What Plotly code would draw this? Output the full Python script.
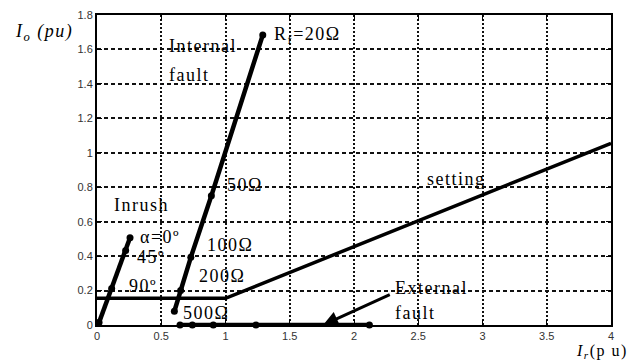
import plotly.graph_objects as go

# ---- data ----
inrush_x = [0.016, 0.114, 0.223, 0.257]
inrush_y = [0.015, 0.212, 0.433, 0.507]

internal_x = [0.602, 0.651, 0.730, 0.890, 1.290]
internal_y = [0.080, 0.200, 0.393, 0.750, 1.684]

external_x = [0.646, 0.742, 0.905, 1.237, 2.120]
external_y = [0.0, 0.0, 0.0, 0.0, 0.0]

setting_x = [0.0, 1.0, 4.0]
setting_y = [0.155, 0.155, 1.055]

x_ticks = [0, 0.5, 1, 1.5, 2, 2.5, 3, 3.5, 4]
x_labels = ["0", "0.5", "1", "1.5", "2", "2.5", "3", "3.5", "4"]
y_ticks = [0, 0.2, 0.4, 0.6, 0.8, 1.0, 1.2, 1.4, 1.6, 1.8]
y_labels = ["0", "0.2", "0.4", "0.6", "0.8", "1", "1.2", "1.4", "1.6", "1.8"]

fig = go.Figure()

line_style = dict(color="black", width=4.5)
mk = dict(color="black", size=7, symbol="circle")

fig.add_trace(go.Scatter(x=setting_x, y=setting_y, mode="lines",
                         line=dict(color="black", width=3.5), hoverinfo="skip"))
fig.add_trace(go.Scatter(x=inrush_x, y=inrush_y, mode="lines+markers",
                         line=line_style, marker=mk))
fig.add_trace(go.Scatter(x=internal_x, y=internal_y, mode="lines+markers",
                         line=line_style, marker=mk))
fig.add_trace(go.Scatter(x=external_x, y=external_y, mode="lines+markers",
                         line=line_style, marker=mk, cliponaxis=False))

serif = dict(family="Liberation Serif, Times New Roman, serif", size=18, color="black")

labels = [
    ("Internal", 0.545, 1.618),
    ("fault", 0.545, 1.452),
    ("R<sub>f</sub>=20Ω", 1.362, 1.68),
    ("50Ω", 0.996, 0.815),
    ("100Ω", 0.840, 0.467),
    ("200Ω", 0.778, 0.285),
    ("500Ω", 0.654, 0.068),
    ("Inrush", 0.117, 0.695),
    ("α=0º", 0.319, 0.513),
    ("45º", 0.296, 0.393),
    ("90º", 0.233, 0.228),
    ("setting", 2.553, 0.845),
    ("External", 2.304, 0.216),
    ("fault", 2.304, 0.068),
]
for t, x, y in labels:
    fig.add_annotation(text=t, x=x, y=y, xref="x", yref="y", xanchor="left",
                       yanchor="middle", align="left", showarrow=False, font=serif)

# arrow for external fault
fig.add_annotation(x=1.76, y=0.0, ax=2.29, ay=0.18, xref="x", yref="y",
                   axref="x", ayref="y", text="", showarrow=True,
                   arrowhead=2, arrowsize=1.0, arrowwidth=3, arrowcolor="black")

# axis titles
fig.add_annotation(text="<i>I<sub>o</sub> (pu)</i>", x=-0.164, y=0.943, xref="paper", yref="paper",
                   xanchor="left", yanchor="middle", align="left", showarrow=False, font=serif)
fig.add_annotation(text="<i>I<sub>r</sub></i>(p u)", x=0.928, y=-0.085, xref="paper", yref="paper",
                   xanchor="left", yanchor="middle", align="left", showarrow=False,
                   font=dict(family="Liberation Serif, Times New Roman, serif", size=16, color="black"))

fig.update_layout(
    width=639, height=362,
    margin=dict(l=97, r=28, t=9, b=37),
    paper_bgcolor="white", plot_bgcolor="white",
    showlegend=False,
    font=dict(family="Liberation Sans, Arial, sans-serif", size=11, color="#333"),
)

fig.update_xaxes(range=[0, 4], tickvals=x_ticks, ticktext=x_labels,
                 showgrid=True, gridcolor="#111", gridwidth=1.5, griddash="2px,2px",
                 showline=True, linecolor="black", linewidth=2, mirror="ticks",
                 ticks="inside", ticklen=5, tickcolor="black", zeroline=False)
fig.update_yaxes(range=[0, 1.8], tickvals=y_ticks, ticktext=y_labels,
                 showgrid=True, gridcolor="#111", gridwidth=1.5, griddash="4px,3px",
                 showline=True, linecolor="black", linewidth=2, mirror="ticks",
                 ticks="inside", ticklen=5, tickcolor="black", zeroline=False)

post = """
document.querySelectorAll('.annotation-text').forEach(function(t){
  t.setAttribute('letter-spacing','1.5px');
});
"""
fig.write_html("out.html", post_script=post)
